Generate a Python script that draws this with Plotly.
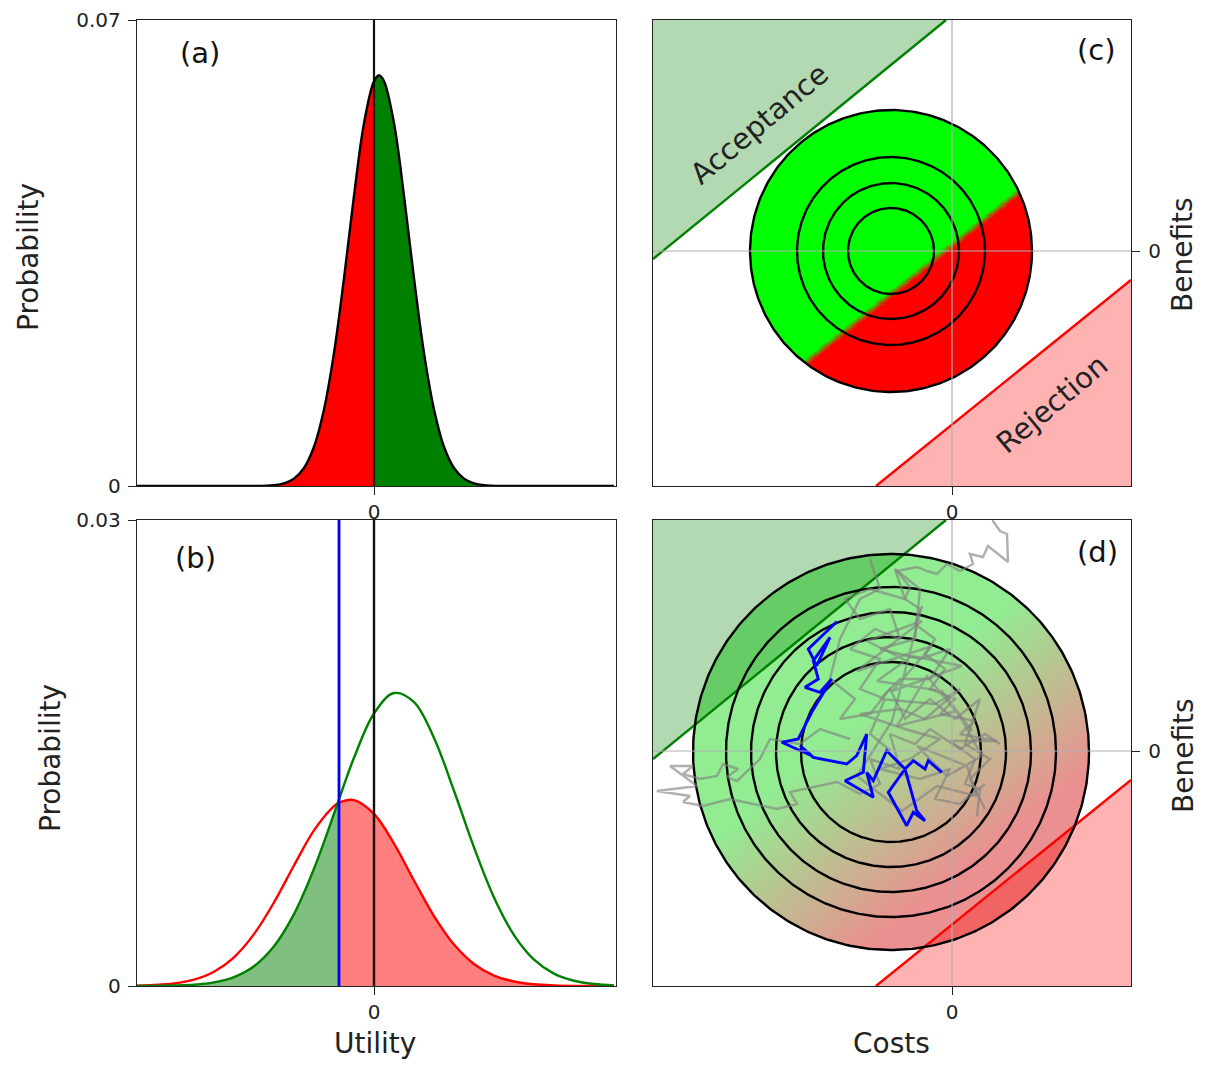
import numpy as np
import plotly.graph_objects as go

W, H = 1205, 1068

# ---------------- Panel (a): utility distribution ----------------
a_x = [-2.4, -1.6, -1.2, -1.0, -0.9, -0.8, -0.7, -0.6, -0.5, -0.4, -0.3, -0.2, -0.1, 0.0,
       0.05, 0.1, 0.2, 0.3, 0.4, 0.5, 0.6, 0.7, 0.8, 0.9, 1.0, 1.1, 1.3, 1.7, 2.4]
a_p = [0.0, 0.0, 0.00001, 0.00014, 0.00041, 0.00111, 0.00271, 0.0059, 0.0115, 0.0200, 0.0312,
       0.0436, 0.0545, 0.0608, 0.0617, 0.0608, 0.0545, 0.0436, 0.0312, 0.0200, 0.0115, 0.0059,
       0.00271, 0.00111, 0.00041, 0.00014, 0.00001, 0.0, 0.0]
a_ymax = 0.07

# ---------------- Panel (b): two distributions + threshold ----------------
b_x = [-2.4, -2.2, -2.0, -1.8, -1.6, -1.4, -1.2, -1.0, -0.8, -0.6, -0.4, -0.35, -0.2, 0.0,
       0.2, 0.4, 0.6, 0.8, 1.0, 1.2, 1.4, 1.6, 1.8, 2.0, 2.2, 2.4]
b_red = [0.00002, 0.00006, 0.00016, 0.00041, 0.00092, 0.00185, 0.00334, 0.00538, 0.00776,
         0.01002, 0.01158, 0.01180, 0.01197, 0.01108, 0.00917, 0.00679, 0.00450, 0.00267,
         0.00142, 0.00067, 0.00029, 0.00011, 0.00004, 0.00001, 0.0, 0.0]
b_green = [0.0, 0.00001, 0.00003, 0.00008, 0.00023, 0.00057, 0.00127, 0.00256, 0.00463,
           0.00755, 0.01109, 0.01202, 0.01469, 0.01754, 0.01886, 0.01828, 0.01597, 0.01257,
           0.00892, 0.00570, 0.00328, 0.00170, 0.00080, 0.00034, 0.00013, 0.00004]
b_threshold = -0.35
b_ymax = 0.03
utility_range = [-2.37, 2.42]

# ---------------- Panels (c), (d): costs / benefits plane ----------------
costs_range = [-2.99, 1.79]
benefits_range = [-2.35, 2.31]
accept_x = [-2.99, -0.06]
accept_y = [-0.08, 2.31]
reject_x = [-0.76, 1.79]
reject_y = [-2.35, -0.29]

c_center = [-0.61, 0.0]
c_radii = [1.41, 0.94, 0.68, 0.43]
c_split_point = [-0.07, 0.0]
c_split_slope = 0.8

d_center = [-0.61, -0.01]
d_radii = [1.98, 1.65, 1.40, 1.15, 0.90]
d_grad_point = [-0.32, -0.38]
d_grad_slope = 0.8

blue_x = [-1.153, -1.437, -1.353, -1.22, -1.387, -1.337, -1.47, -1.32, -1.203, -1.403, -1.537,
          -1.703, -1.403, -1.52, -1.387, -1.053, -0.953, -0.853, -0.887, -1.07, -0.787, -0.853,
          -0.787, -0.653, -0.47, -0.637, -0.453, -0.387, -0.27, -0.353, -0.47, -0.387, -0.27,
          -0.237, -0.103]
blue_y = [1.293, 1.02, 0.853, 1.137, 0.903, 0.72, 0.637, 0.587, 0.72, 0.387, 0.12, 0.087,
          -0.047, 0.053, -0.063, -0.13, -0.047, 0.17, -0.213, -0.297, -0.463, -0.213, -0.297,
          0.003, -0.18, -0.413, -0.747, -0.613, -0.697, -0.597, -0.18, -0.097, -0.18, -0.097,
          -0.213]

gray1_x = [0.41, 0.41, 0.48, 0.55, 0.56, 0.36, 0.31, 0.18, 0.21, 0.08, -0.05, -0.15, -0.25, -0.35,
           -0.55, -0.42, -0.47, -0.32, -0.37, -0.17, -0.27, -0.07, -0.22, 0.03, -0.12, 0.23, 0.08,
           0.45, -0.02, 0.23, 0.13, 0.28, 0.25]
gray1_y = [2.42, 2.30, 2.20, 2.17, 1.89, 2.05, 1.94, 1.97, 1.87, 1.80, 1.87, 1.77, 1.80, 1.84,
           1.80, 1.64, 1.52, 1.42, 1.27, 1.12, 0.97, 0.82, 0.62, 0.52, 0.37, 0.30, 0.17, 0.10,
           0.10, -0.08, -0.33, -0.38, -0.65]
gray2_x = [-0.61, -0.82, -0.67, -0.92, -0.72, -1.02, -0.77, -0.52, -0.62, -0.92, -1.07, -0.82,
           -0.47, -0.57, -0.32, -0.37, -0.72, -0.32, -0.02, -0.22, -0.52, -0.72, -0.17, 0.08,
           -0.27, -0.52, -0.92, -0.47, -0.12, -0.42, -0.72, -0.32, -0.02, -0.17, 0.08, 0.33]
gray2_y = [0.0, 0.17, 0.52, 0.62, 0.92, 1.02, 1.22, 1.12, 1.42, 1.32, 1.52, 1.62, 1.52, 1.82,
           1.62, 1.12, 1.02, 0.92, 1.02, 0.72, 0.72, 0.52, 0.47, 0.62, 0.32, 0.42, 0.37, 0.22,
           0.12, -0.08, -0.18, -0.28, -0.18, -0.48, -0.53, -0.33]
gray3_x = [-1.02, -1.32, -1.52, -1.82, -1.92, -2.15, -2.25, -2.14, -2.29, -2.35, -2.52, -2.69,
           -2.59, -2.82, -2.55, -2.82, -2.95, -2.62, -2.69, -2.49, -2.22, -1.75, -1.55, -1.62,
           -1.15, -0.92, -0.72, -0.82, -0.52, -0.62, -0.37, -0.22, 0.08, 0.33, 0.48]
gray3_y = [0.12, 0.22, 0.07, 0.12, -0.08, -0.30, -0.26, -0.18, -0.13, -0.25, -0.28, -0.23,
           -0.15, -0.15, -0.35, -0.38, -0.40, -0.45, -0.51, -0.55, -0.48, -0.58, -0.53, -0.41,
           -0.31, -0.43, -0.33, -0.08, -0.18, 0.17, 0.07, 0.22, 0.02, 0.17, 0.07]
gray4_x = [-0.82, -0.72, -0.92, -1.12, -1.22, -0.97, -1.12, -0.82, -0.62, -0.47, -0.22, 0.03,
           0.28, 0.13, 0.38, 0.18, 0.33]
gray4_y = [1.92, 1.62, 1.52, 1.12, 0.72, 0.52, 0.32, 0.37, 0.62, 0.32, 0.52, 0.32, 0.52, 0.07,
           -0.08, -0.28, -0.58]
gray5_x = [-0.45, -0.85, -0.30, -0.95, -0.20, -0.60, 0.10, -0.40, -0.75, -0.10, 0.20, -0.25,
           -0.55, 0.05, 0.30, -0.05, -0.35, 0.15, 0.25, -0.15, -0.50, -0.95, -0.60, -0.30]
gray5_y = [0.90, 1.10, 1.30, 0.80, 1.05, 0.60, 0.85, 0.95, 0.70, 0.60, 0.20, 0.75, 0.25, 0.40,
           -0.05, -0.25, 0.05, -0.15, -0.45, -0.35, -0.60, -0.25, 0.30, 1.45]

# ---------------- helpers ----------------
FONT = "DejaVu Sans"


def px_x(p):
    return p / W


def px_y(p):
    return 1 - p / H


dom_x_left = [px_x(137), px_x(616)]
dom_x_right = [px_x(653), px_x(1131)]
dom_y_top = [px_y(486), px_y(20)]
dom_y_bot = [px_y(986), px_y(520)]


def disc_field(center, radius, point, slope, step=0.011):
    xs = np.arange(center[0] - radius - step, center[0] + radius + 2 * step, step)
    ys = np.arange(center[1] - radius - step, center[1] + radius + 2 * step, step)
    X, Y = np.meshgrid(xs, ys)
    inside = (X - center[0]) ** 2 + (Y - center[1]) ** 2 <= radius ** 2
    t = ((X - point[0]) * slope - (Y - point[1])) / np.sqrt(1 + slope ** 2)
    z = np.where(inside, np.round(t, 3), np.nan)
    return xs, ys, z


fig = go.Figure()

# ---- (a)
ax_idx_neg = [i for i, v in enumerate(a_x) if v <= 0]
ax_idx_pos = [i for i, v in enumerate(a_x) if v >= 0]
fig.add_trace(go.Scatter(x=[a_x[i] for i in ax_idx_neg], y=[a_p[i] for i in ax_idx_neg],
                         mode="lines", line=dict(width=0, shape="spline", color="red"),
                         fill="tozeroy", fillcolor="#ff0000", xaxis="x", yaxis="y",
                         hoverinfo="skip"))
fig.add_trace(go.Scatter(x=[a_x[i] for i in ax_idx_pos], y=[a_p[i] for i in ax_idx_pos],
                         mode="lines", line=dict(width=0, shape="spline", color="green"),
                         fill="tozeroy", fillcolor="#008000", xaxis="x", yaxis="y",
                         hoverinfo="skip"))
fig.add_trace(go.Scatter(x=[0, 0], y=[0, a_ymax], mode="lines",
                         line=dict(color="#111111", width=2.2), xaxis="x", yaxis="y",
                         hoverinfo="skip"))
fig.add_trace(go.Scatter(x=a_x, y=a_p, mode="lines",
                         line=dict(color="black", width=2.4, shape="spline"),
                         xaxis="x", yaxis="y", hoverinfo="skip"))

# ---- (b)
bi_left = [i for i, v in enumerate(b_x) if v <= b_threshold]
bi_right = [i for i, v in enumerate(b_x) if v >= b_threshold]
fig.add_trace(go.Scatter(x=[b_x[i] for i in bi_left], y=[b_green[i] for i in bi_left],
                         mode="lines", line=dict(width=0, shape="spline"),
                         fill="tozeroy", fillcolor="rgba(0,128,0,0.5)", xaxis="x2", yaxis="y2",
                         hoverinfo="skip"))
fig.add_trace(go.Scatter(x=[b_x[i] for i in bi_right], y=[b_red[i] for i in bi_right],
                         mode="lines", line=dict(width=0, shape="spline"),
                         fill="tozeroy", fillcolor="rgba(255,0,0,0.5)", xaxis="x2", yaxis="y2",
                         hoverinfo="skip"))
fig.add_trace(go.Scatter(x=b_x, y=b_red, mode="lines",
                         line=dict(color="#ff0000", width=2.4, shape="spline"),
                         xaxis="x2", yaxis="y2", hoverinfo="skip"))
fig.add_trace(go.Scatter(x=b_x, y=b_green, mode="lines",
                         line=dict(color="#008000", width=2.4, shape="spline"),
                         xaxis="x2", yaxis="y2", hoverinfo="skip"))
fig.add_trace(go.Scatter(x=[b_threshold, b_threshold], y=[0, b_ymax], mode="lines",
                         line=dict(color="#0000ff", width=2.8), xaxis="x2", yaxis="y2",
                         hoverinfo="skip"))
fig.add_trace(go.Scatter(x=[0, 0], y=[0, b_ymax], mode="lines",
                         line=dict(color="#111111", width=2.4), xaxis="x2", yaxis="y2",
                         hoverinfo="skip"))


def add_plane(xa, ya, center, radii, field_point, field_slope, cscale, zlim):
    xs, ys, z = disc_field(center, radii[0], field_point, field_slope)
    fig.add_trace(go.Heatmap(x=xs, y=ys, z=z, colorscale=cscale, zmin=-zlim, zmax=zlim,
                             showscale=False, hoverinfo="skip", xaxis=xa, yaxis=ya))
    fig.add_trace(go.Scatter(x=[accept_x[0], accept_x[1], costs_range[0], accept_x[0]],
                             y=[accept_y[0], accept_y[1], benefits_range[1], accept_y[0]],
                             mode="lines", line=dict(width=0), fill="toself",
                             fillcolor="rgba(0,128,0,0.3)", xaxis=xa, yaxis=ya,
                             hoverinfo="skip"))
    fig.add_trace(go.Scatter(x=[reject_x[0], reject_x[1], costs_range[1], reject_x[0]],
                             y=[reject_y[0], reject_y[1], benefits_range[0], reject_y[0]],
                             mode="lines", line=dict(width=0), fill="toself",
                             fillcolor="rgba(255,0,0,0.3)", xaxis=xa, yaxis=ya,
                             hoverinfo="skip"))
    fig.add_trace(go.Scatter(x=accept_x, y=accept_y, mode="lines",
                             line=dict(color="#008000", width=2.4), xaxis=xa, yaxis=ya,
                             hoverinfo="skip"))
    fig.add_trace(go.Scatter(x=reject_x, y=reject_y, mode="lines",
                             line=dict(color="#ff0000", width=2.4), xaxis=xa, yaxis=ya,
                             hoverinfo="skip"))
    theta = np.linspace(0, 2 * np.pi, 400)
    for r in radii:
        fig.add_trace(go.Scatter(x=center[0] + r * np.cos(theta),
                                 y=center[1] + r * np.sin(theta), mode="lines",
                                 line=dict(color="black", width=2.4), xaxis=xa, yaxis=ya,
                                 hoverinfo="skip"))


add_plane("x3", "y3", c_center, c_radii, c_split_point, c_split_slope,
          [[0, "#00ff00"], [1, "#ff0000"]], 0.035)
add_plane("x4", "y4", d_center, d_radii, d_grad_point, d_grad_slope,
          [[0, "#92ec92"], [1, "#ea9090"]], 0.9)

for gx, gy in [(gray1_x, gray1_y), (gray2_x, gray2_y), (gray3_x, gray3_y), (gray4_x, gray4_y),
               (gray5_x, gray5_y)]:
    fig.add_trace(go.Scatter(x=gx, y=gy, mode="lines",
                             line=dict(color="rgba(128,128,128,0.62)", width=2.4),
                             xaxis="x4", yaxis="y4", hoverinfo="skip"))
fig.add_trace(go.Scatter(x=blue_x, y=blue_y, mode="lines",
                         line=dict(color="#0000ff", width=2.9), xaxis="x4", yaxis="y4",
                         hoverinfo="skip"))

shapes = []
for xa, ya in [("x3", "y3"), ("x4", "y4")]:
    shapes.append(dict(type="line", xref=xa, yref=ya + " domain", x0=0, x1=0, y0=0, y1=1,
                       line=dict(color="#b0b0b0", width=1.2), layer="above"))
    shapes.append(dict(type="line", xref=xa + " domain", yref=ya, x0=0, x1=1, y0=0, y1=0,
                       line=dict(color="#b0b0b0", width=1.2), layer="above"))

tickfont = dict(family=FONT, size=20, color="#222222")


def axis(domain, rng, tickvals, ticktext, anchor, side=None, standoff=None):
    d = dict(domain=domain, range=rng, tickvals=tickvals, ticktext=ticktext, anchor=anchor,
             showline=True, mirror=True, linecolor="#222222", linewidth=1.4,
             ticks="outside", ticklen=8, tickwidth=1.3, tickcolor="#222222",
             showgrid=False, zeroline=False, tickfont=tickfont, fixedrange=True,
             automargin=False)
    if side:
        d["side"] = side
    if standoff is not None:
        d["ticklabelstandoff"] = standoff
    return d


layout = dict(
    width=W, height=H, margin=dict(l=0, r=0, t=0, b=0),
    paper_bgcolor="white", plot_bgcolor="white", showlegend=False,
    xaxis=axis(dom_x_left, utility_range, [0], ["0"], "y"),
    yaxis=axis(dom_y_top, [0, a_ymax], [0, a_ymax], ["0", "0.07"], "x", standoff=3),
    xaxis2=axis(dom_x_left, utility_range, [0], ["0"], "y2"),
    yaxis2=axis(dom_y_bot, [0, b_ymax], [0, b_ymax], ["0", "0.03"], "x2", standoff=3),
    xaxis3=axis(dom_x_right, costs_range, [0], ["0"], "y3"),
    yaxis3=axis(dom_y_top, benefits_range, [0], ["0"], "x3", side="right", standoff=4),
    xaxis4=axis(dom_x_right, costs_range, [0], ["0"], "y4"),
    yaxis4=axis(dom_y_bot, benefits_range, [0], ["0"], "x4", side="right", standoff=4),
    shapes=shapes,
)
fig.update_layout(**layout)

title_font = dict(family=FONT, size=28, color="#222222")
label_font = dict(family=FONT, size=29, color="#111111")
ann = []


def add_text(text, xp, yp, font, angle=0):
    ann.append(dict(text=text, x=px_x(xp), y=px_y(yp), xref="paper", yref="paper",
                    showarrow=False, xanchor="center", yanchor="middle", font=font,
                    textangle=angle))


add_text("Probability", 28, 257, title_font, -90)
add_text("Probability", 50, 758, title_font, -90)
add_text("Benefits", 1183, 255, title_font, -90)
add_text("Benefits", 1183, 756, title_font, -90)
add_text("Utility", 375, 1043, title_font)
add_text("Costs", 891, 1043, title_font)
add_text("(a)", 200, 53, label_font)
add_text("(b)", 195, 558, label_font)
add_text("(c)", 1096, 50, label_font)
add_text("(d)", 1097, 552, label_font)
add_text("Acceptance", 759, 124, dict(family=FONT, size=29, color="#222222"), -40)
add_text("Rejection", 1052, 404, dict(family=FONT, size=29, color="#222222"), -40)
fig.update_layout(annotations=ann)

fig.write_html("out.html",
               post_script="document.body.style.margin='0';"
                           "document.body.style.overflow='hidden';")
